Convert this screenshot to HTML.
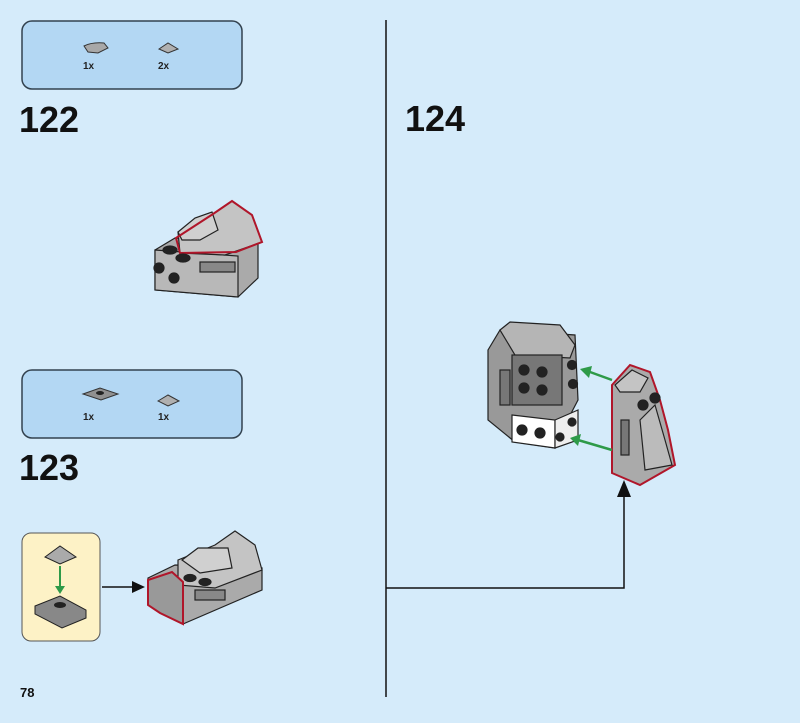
<!DOCTYPE html>
<html><head><style>
body{margin:0;width:800px;height:718px;background:#d5ebfa;overflow:hidden;font-family:"Liberation Sans",sans-serif}
</style></head><body>
<svg width="800" height="718" viewBox="0 0 800 718" xmlns="http://www.w3.org/2000/svg" font-family="Liberation Sans, sans-serif">
<rect x="22" y="21" width="220" height="68" rx="10" fill="#b3d7f3" stroke="#33424f" stroke-width="1.5"/>
<path d="M84 46 Q92 42 104 43 L108 48 L98 53 L88 52 Z" fill="#a8a8a8" stroke="#333" stroke-width="1"/>
<path d="M159 49 L168 43 L178 49 L168 53 Z" fill="#b0b0b0" stroke="#333" stroke-width="1"/>
<text x="83" y="69" font-size="10" font-weight="bold" fill="#222">1x</text>
<text x="158" y="69" font-size="10" font-weight="bold" fill="#222">2x</text>
<text x="19" y="132" font-size="36" font-weight="bold" fill="#111">122</text>

<!-- model 122 -->
<g stroke="#222" stroke-width="1.2">
<path d="M155 250 L175 238 L258 244 L258 278 L238 297 L155 290 Z" fill="#aaa"/>
<path d="M155 250 L238 256 L238 297 L155 290 Z" fill="#b8b8b8"/>
<path d="M178 232 L213 214 L232 201 L252 215 L262 242 L225 255 L180 253 Z" fill="#c4c4c4"/>
<path d="M178 232 L195 218 L212 212 L218 230 L200 240 L182 240 Z" fill="#d0d0d0"/>
<path d="M213 214 L232 201 L252 215 L262 242 L236 252 L180 253 L176 238 Z" fill="none" stroke="#b0162a" stroke-width="2"/>
<rect x="200" y="262" width="35" height="10" fill="#888"/>
<ellipse cx="170" cy="250" rx="7" ry="4" fill="#222"/>
<ellipse cx="183" cy="258" rx="7" ry="4" fill="#222"/>
<circle cx="159" cy="268" r="5" fill="#222"/>
<circle cx="174" cy="278" r="5" fill="#222"/>
</g>

<rect x="22" y="370" width="220" height="68" rx="10" fill="#b3d7f3" stroke="#33424f" stroke-width="1.5"/>
<path d="M83 394 L100 388 L118 394 L101 400 Z" fill="#909090" stroke="#333"/>
<ellipse cx="100" cy="393" rx="4" ry="2" fill="#222"/>
<path d="M158 401 L168 395 L179 401 L168 406 Z" fill="#b0b0b0" stroke="#333"/>
<text x="83" y="420" font-size="10" font-weight="bold" fill="#222">1x</text>
<text x="158" y="420" font-size="10" font-weight="bold" fill="#222">1x</text>
<text x="19" y="480" font-size="36" font-weight="bold" fill="#111">123</text>

<rect x="22" y="533" width="78" height="108" rx="9" fill="#fdf2c6" stroke="#555" stroke-width="1"/>
<path d="M45 557 L60 546 L76 557 L60 564 Z" fill="#aaa" stroke="#222"/>
<line x1="60" y1="566" x2="60" y2="590" stroke="#2e9a48" stroke-width="2"/>
<path d="M55 586 L60 594 L65 586 Z" fill="#2e9a48"/>
<path d="M35 606 L60 596 L86 610 L86 618 L62 628 L35 614 Z" fill="#888" stroke="#222"/>
<ellipse cx="60" cy="605" rx="6" ry="3" fill="#222"/>

<line x1="102" y1="587" x2="134" y2="587" stroke="#111" stroke-width="1.5"/>
<path d="M132 581 L145 587 L132 593 Z" fill="#111"/>

<!-- model 123 -->
<g stroke="#222" stroke-width="1.2">
<path d="M148 578 L175 565 L262 568 L262 590 L183 624 L148 605 Z" fill="#aaa"/>
<path d="M178 560 L215 545 L235 531 L255 545 L262 570 L215 588 L178 585 Z" fill="#c4c4c4"/>
<path d="M182 560 L198 548 L228 548 L232 568 L200 573 Z" fill="#d0d0d0"/>
<rect x="195" y="590" width="30" height="10" fill="#888"/>
<path d="M148 580 L172 572 L183 582 L183 624 L160 613 L148 605 Z" fill="#999" stroke="#b0162a" stroke-width="2"/>
<ellipse cx="190" cy="578" rx="6" ry="3.5" fill="#222"/>
<ellipse cx="205" cy="582" rx="6" ry="3.5" fill="#222"/>
</g>

<line x1="386" y1="20" x2="386" y2="697" stroke="#111" stroke-width="1.5"/>
<text x="405" y="131" font-size="36" font-weight="bold" fill="#111">124</text>
<polyline points="386,588 624,588 624,495" fill="none" stroke="#111" stroke-width="1.5"/>
<path d="M617 497 L624 480 L631 497 Z" fill="#111"/>

<!-- model 124 -->
<g stroke="#222" stroke-width="1.2">
<path d="M488 350 L500 330 L575 335 L578 400 L565 425 L555 448 L515 442 L488 420 Z" fill="#999"/>
<path d="M500 330 L510 322 L560 325 L575 345 L570 358 L515 355 Z" fill="#b5b5b5"/>
<rect x="512" y="355" width="50" height="50" fill="#777"/>
<path d="M512 415 L555 420 L555 448 L512 442 Z" fill="#fff"/>
<path d="M555 420 L578 410 L578 440 L555 448 Z" fill="#eee"/>
<rect x="500" y="370" width="10" height="35" fill="#777"/>
<circle cx="524" cy="370" r="5" fill="#222"/><circle cx="542" cy="372" r="5" fill="#222"/>
<circle cx="524" cy="388" r="5" fill="#222"/><circle cx="542" cy="390" r="5" fill="#222"/>
<circle cx="572" cy="365" r="4.5" fill="#222"/><circle cx="573" cy="384" r="4.5" fill="#222"/>
<circle cx="522" cy="430" r="5" fill="#222"/><circle cx="540" cy="433" r="5" fill="#222"/>
<circle cx="560" cy="437" r="4" fill="#222"/><circle cx="572" cy="422" r="4" fill="#222"/>
<path d="M612 385 L630 365 L650 372 L660 400 L668 430 L675 465 L640 485 L612 473 Z" fill="#aaa" stroke="#b0162a" stroke-width="2"/>
<path d="M615 385 L632 370 L648 378 L640 392 L620 392 Z" fill="#c4c4c4"/>
<rect x="621" y="420" width="8" height="35" fill="#777"/>
<path d="M640 420 L655 405 L665 440 L672 465 L645 470 Z" fill="#bbb"/>
<circle cx="643" cy="405" r="5" fill="#222"/><circle cx="655" cy="398" r="5" fill="#222"/>
</g>
<line x1="612" y1="380" x2="590" y2="372" stroke="#2e9a48" stroke-width="2.5"/>
<path d="M592 366 L580 369 L589 378 Z" fill="#2e9a48"/>
<line x1="612" y1="450" x2="578" y2="440" stroke="#2e9a48" stroke-width="2.5"/>
<path d="M581 434 L570 438 L578 446 Z" fill="#2e9a48"/>

<text x="20" y="697" font-size="13" font-weight="bold" fill="#111">78</text>
</svg>
</body></html>
